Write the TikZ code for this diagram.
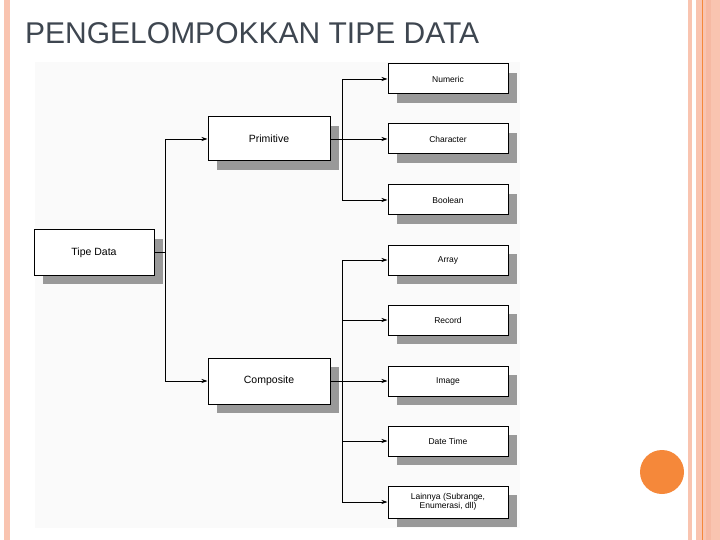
\documentclass[tikz,border=0pt]{standalone}
\usepackage{fontspec}
\setmainfont{Liberation Sans}
\usetikzlibrary{arrows.meta}
\definecolor{salmon}{HTML}{F9C4B0}
\definecolor{salmon2}{HTML}{F6B9A3}
\definecolor{orangeC}{HTML}{F5883A}
\definecolor{titleC}{HTML}{3E4650}
\begin{document}
\begin{tikzpicture}[x=1pt,y=-1pt,
  box/.style={draw=black,line width=1pt,fill=white,minimum height=30pt,minimum width=120pt,inner sep=1pt,align=center,font=\fontsize{8.5}{9.5}\selectfont},
  bigbox/.style={box,minimum height=44pt,minimum width=122pt,font=\fontsize{10.5}{12}\selectfont},
  conn/.style={line width=0.8pt},
  arr/.style={conn,-{Stealth[length=6pt,width=4pt]}}]
\useasboundingbox (0,0) rectangle (720,540);
% borders
\fill[salmon] (4,0) rectangle (10,540);
\fill[salmon] (688,0) rectangle (692,540);
\fill[salmon] (696,0) rectangle (720,540);
\fill[salmon2] (706,0) rectangle (711,540);
\draw[orangeC,line width=0.8pt] (702,0) -- (702,540);
\fill[orangeC] (662,472) circle (22);
% title
\node[anchor=base west,text=titleC,font=\fontsize{30}{34}\selectfont,inner sep=0] (title) at (25,44) {PENGELOMPOKKAN TIPE DATA};
% background
\fill[black!2] (35,62) rectangle (520,528);
% shadows
\foreach \x/\y/\w/\h in {34/230/120/45,208/117/122/44,208/358/122/46,388/64/120/30,388/124/120/30,388/185/120/30,388/245/120/30,388/305/120/30,388/366/120/30,388/426/120/30,388/486/120/32}{
  \fill[black!40] (\x+9,\y+9) rectangle (\x+\w+9,\y+\h+9);}
\node[bigbox,minimum height=45pt,minimum width=120pt] (td) at (94,252.5) {Tipe Data};
\node[bigbox] (pr) at (269,139) {Primitive};
\node[bigbox,minimum height=46pt] (co) at (269,381) {Composite};
\node[box] (n1) at (448,79) {Numeric};
\node[box] (n2) at (448,139) {Character};
\node[box] (n3) at (448,200) {Boolean};
\node[box] (n4) at (448,260) {Array};
\node[box] (n5) at (448,320) {Record};
\node[box] (n6) at (448,381) {Image};
\node[box] (n7) at (448,441) {Date Time};
\node[box,minimum height=32pt] (n8) at (448,502) {Lainnya (Subrange,\\Enumerasi, dll)};
% connectors
\coordinate (j0) at (165,252.5);
\draw[conn] (td.east) -- (j0);
\draw[arr] (j0) |- (pr.west);
\draw[arr] (j0) |- (co.west);
\coordinate (j1) at (342,139);
\draw[conn] (pr.east) -- (j1);
\foreach \n in {n1,n2,n3} \draw[arr] (j1) |- (\n.west);
\coordinate (j2) at (342,381);
\draw[conn] (co.east) -- (j2);
\foreach \n in {n4,n5,n6,n7,n8} \draw[arr] (j2) |- (\n.west);
\end{tikzpicture}
\end{document}
